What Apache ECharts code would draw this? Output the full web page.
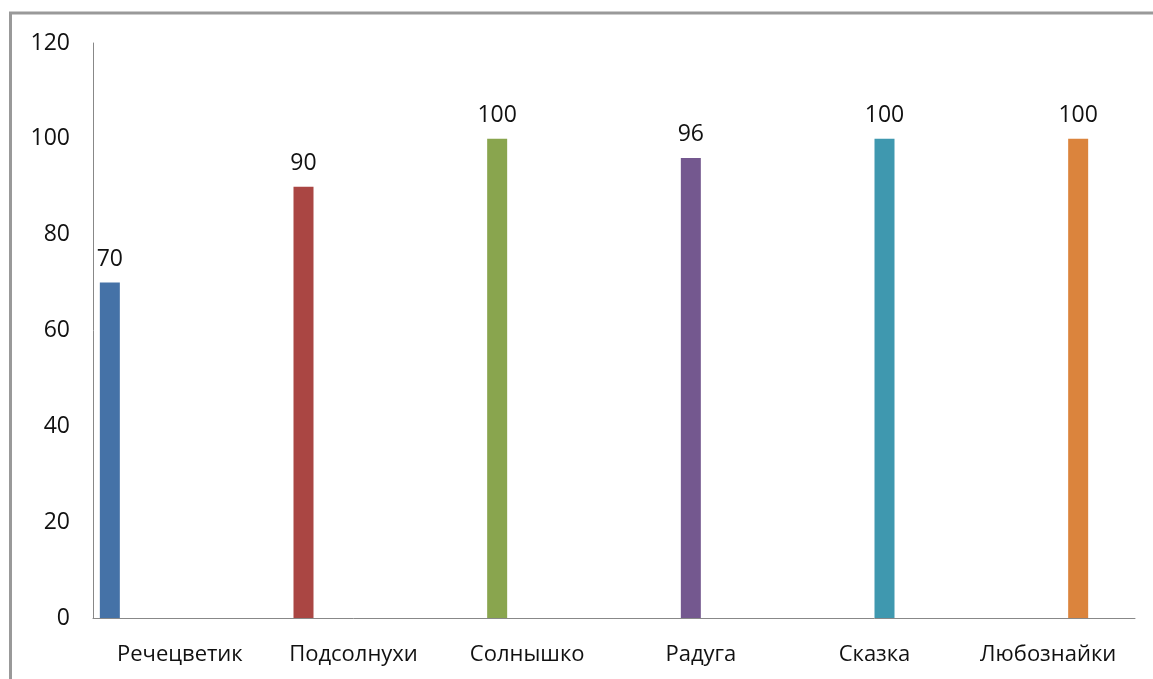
<!DOCTYPE html>
<html>
<head>
<meta charset="utf-8">
<script src="https://cdn.jsdelivr.net/npm/echarts@6/dist/echarts.min.js"></script>
<style>
html,body{margin:0;padding:0;background:#fff;}
#chart{width:1153px;height:679px;}
</style>
</head>
<body>
<div id="chart"></div>
<script>
const categories = ['Речецветик', 'Подсолнухи', 'Солнышко', 'Радуга', 'Сказка', 'Любознайки'];
const values = [70, 90, 100, 96, 100, 100];
const colors = ['#4572A7', '#AA4643', '#89A54E', '#74588F', '#3F98AF', '#DB843D'];
const yTicks = [0, 20, 40, 60, 80, 100, 120];

const FONT = '"Open Sans", "Noto Sans", sans-serif';
const chart = echarts.init(document.getElementById('chart'));

const series = categories.map((c, i) => ({
  name: c,
  type: 'bar',
  barWidth: 20,
  barGap: '0%',
  itemStyle: { color: colors[i] },
  label: {
    show: true, position: 'top', distance: 12,
    color: '#111', fontSize: 23, fontFamily: FONT
  },
  data: categories.map((_, j) => (j === i ? values[i] : null))
}));
// two empty slots that keep each group's offset as in the reference
for (let k = 0; k < 2; k++) {
  series.push({ name: 'pad' + k, type: 'bar', barWidth: 20, barGap: '0%', data: categories.map(() => null), silent: true });
}

chart.setOption({
  animation: false,
  backgroundColor: '#fff',
  grid: { left: 93, right: 18, top: 43, bottom: 61, containLabel: false },
  graphic: [{
    type: 'polyline',
    shape: { points: [[10.5, 700], [10.5, 13], [1200, 13]] },
    style: { stroke: '#999', lineWidth: 3, fill: null },
    silent: true
  }],
  xAxis: {
    type: 'category',
    data: categories,
    axisLine: { show: true, lineStyle: { color: '#888', width: 1 } },
    axisTick: { show: false },
    splitLine: { show: false },
    axisLabel: { color: '#111', fontSize: 22, fontFamily: FONT, margin: 26, interval: 0 }
  },
  yAxis: {
    type: 'value',
    min: yTicks[0],
    max: yTicks[yTicks.length - 1],
    interval: yTicks[1] - yTicks[0],
    axisLine: { show: true, lineStyle: { color: '#888', width: 1 } },
    axisTick: { show: false },
    splitLine: { show: false },
    axisLabel: { color: '#111', fontSize: 23, fontFamily: FONT, margin: 23 }
  },
  series: series
});
</script>
</body>
</html>
